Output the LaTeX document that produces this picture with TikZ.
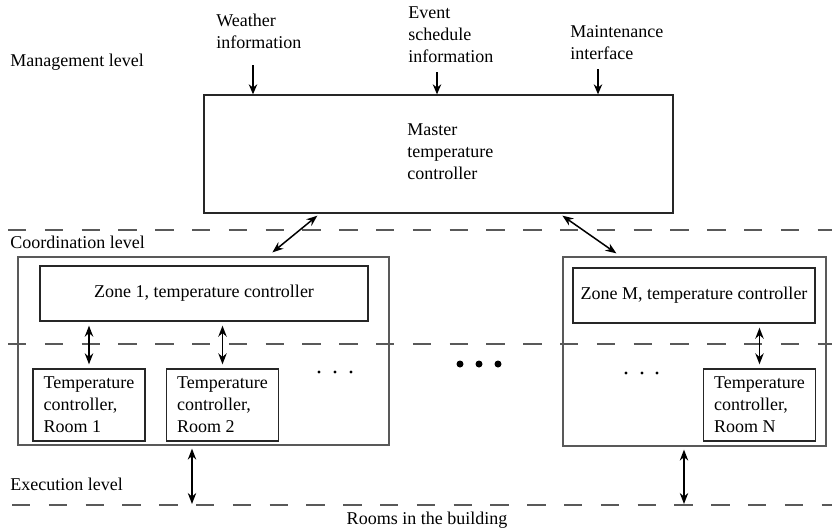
\documentclass[tikz,border=0pt]{standalone}
\usepackage{fontspec}
\setmainfont{Liberation Serif}
\usetikzlibrary{arrows.meta,calc}
\begin{document}
\begin{tikzpicture}[x=0.5pt,y=-0.5pt,
  lbl/.style={inner sep=0pt, align=left, font=\fontsize{9}{11}\selectfont},
  box/.style={draw=black!85, line width=0.65pt, inner sep=0pt, font=\fontsize{9}{11}\selectfont},
  roombox/.style={box, minimum width=56pt, minimum height=36pt, align=left},
  zonebox/.style={draw=black!65, line width=0.6pt, inner sep=0pt},
  levelline/.style={draw=black!65, line width=0.55pt, dash pattern=on 9.2pt off 9.2pt},
  link/.style={line width=0.75pt, {Stealth[length=5.5pt,width=4.2pt]}-{Stealth[length=5.5pt,width=4.2pt]}},
  feed/.style={line width=0.75pt, -{Stealth[length=5pt,width=4.2pt]}},
]
\useasboundingbox (0,0) rectangle (832,531);

% level separators
\coordinate (s1l) at (8,230);  \coordinate (s1r) at (832,230);
\coordinate (s2l) at (8,344);  \coordinate (s2r) at (832,344);
\coordinate (s3l) at (12,505); \coordinate (s3r) at (832,505);
\draw[levelline] (s1l) -- (s1r);
\draw[levelline] (s2l) -- (s2r);
\draw[levelline] (s3l) -- (s3r);

% level names
\node[lbl, anchor=west] (lman) at (10,62) {Management level};
\node[lbl, anchor=west] (lcoo) at (10,242) {Coordination level};
\node[lbl, anchor=west] (lexe) at (10,484) {Execution level};
\node[lbl] (lroom) at (427,520) {Rooms in the building};

% master controller and its inputs
\node[box, minimum width=234.5pt, minimum height=59pt] (master) at (438.5,154) {};
\node[lbl, anchor=west] (mtext) at (407,152) {Master\\temperature\\controller};

\node[lbl, anchor=west] (weather) at (216,31) {Weather\\information};
\node[lbl, anchor=west] (event) at (408,35) {Event\\schedule\\information};
\node[lbl, anchor=west] (maint) at (570,43) {Maintenance\\interface};
\coordinate (win) at (253,65);
\coordinate (ein) at (437,72);
\coordinate (min) at (598,69);
\draw[feed] (win) -- (win |- master.north);
\draw[feed] (ein) -- (ein |- master.north);
\draw[feed] (min) -- (min |- master.north);

% zone 1
\node[zonebox, minimum width=185.5pt, minimum height=94pt] (z1) at (203.5,351) {};
\node[box, minimum width=164pt, minimum height=27.5pt] (z1c) at (204,293.5) {Zone 1, temperature controller};
\node[roombox] (r1) at (89,405) {Temperature\\controller,\\Room 1};
\node[roombox] (r2) at (222.5,405) {Temperature\\controller,\\Room 2};
\draw[link, shorten <=2pt, shorten >=2pt] (r1.north |- z1c.south) -- (r1.north);
\draw[link, shorten <=2pt, shorten >=2pt] (r2.north |- z1c.south) -- (r2.north);
\foreach \x in {319,335,351} \fill (\x,372) circle[radius=0.8pt];

% zone M
\node[zonebox, minimum width=131.5pt, minimum height=94.5pt] (zm) at (694.5,351.5) {};
\node[box, minimum width=121pt, minimum height=27.5pt] (zmc) at (694,295.5) {Zone M, temperature controller};
\node[roombox] (rn) at (759.5,405) {Temperature\\controller,\\Room N};
\draw[link, shorten <=2pt, shorten >=2pt] (rn.north |- zmc.south) -- (rn.north);
\foreach \x in {626,642,657} \fill (\x,373) circle[radius=0.8pt];

% further zones
\foreach \x in {460,479,498} \fill (\x,364) circle[radius=1.75pt];

% master to zones
\draw[link] ($(master.south west)+(114,2)$) -- ($(z1.north west)+(255,-4)$);
\draw[link] ($(master.south west)+(359,2)$) -- ($(zm.north west)+(54,-3)$);

% zones to rooms
\coordinate (g1) at (192,505);
\coordinate (gm) at (684,505);
\draw[link, shorten <=1.5pt, shorten >=0.5pt] (g1 |- z1.south) -- (g1);
\draw[link, shorten <=1.5pt, shorten >=0.5pt] (gm |- zm.south) -- (gm);
\end{tikzpicture}
\end{document}
